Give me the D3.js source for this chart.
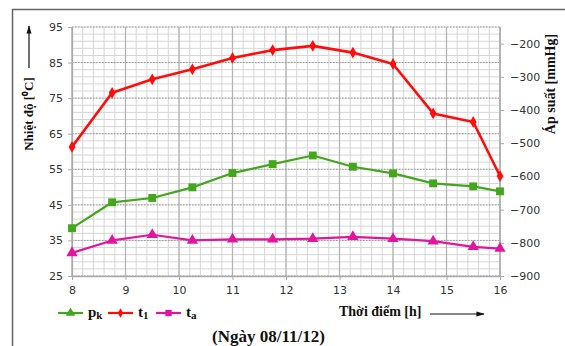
<!DOCTYPE html>
<meta charset="utf-8">
<style>
body { margin: 0; background: #fff; }
svg { display: block; }
.tick text { font: 11px "DejaVu Sans", sans-serif; fill: #333; }
.title { font-family: "Liberation Serif", "Times New Roman", serif; font-weight: bold; fill: #111; }
</style>
<svg width="565" height="346"></svg>
<script src="https://d3js.org/d3.v7.min.js"></script>
<script>

var hours = [8, 8.75, 9.5, 10.25, 11, 11.75, 12.5, 13.25, 14, 14.75, 15.5, 16];
var t1 = [61.3, 76.5, 80.3, 83.1, 86.3, 88.5, 89.7, 87.8, 84.6, 70.7, 68.3, 53.1];
var ta = [31.5, 35.0, 36.6, 35.0, 35.3, 35.3, 35.5, 36.0, 35.5, 34.8, 33.2, 32.7];
var pk = [-756, -678, -665, -633, -590, -563, -537, -571, -591, -621, -630, -645];
var tempTicks = [25, 35, 45, 55, 65, 75, 85, 95];
var presTicks = [-900, -800, -700, -600, -500, -400, -300, -200];
var hourTicks = [8, 9, 10, 11, 12, 13, 14, 15, 16];

var svg = d3.select("svg");

var x = d3.scaleLinear().domain([8, 16]).range([72, 500]),
    yT = d3.scaleLinear().domain([25, 95]).range([276, 27]),
    yP = d3.scaleLinear().domain([-900, -150]).range([276, 27]);

// outer frame
svg.append("path")
    .attr("d", "M12.5,346V9.5H565")
    .attr("fill", "none")
    .attr("stroke", "#666")
    .attr("stroke-width", 1.5);

var grid = svg.append("g");

// minor grid
grid.selectAll(".vmin")
    .data(d3.range(8, 16.01, 0.2))
  .enter().append("line")
    .attr("x1", d => x(d)).attr("x2", d => x(d))
    .attr("y1", yT(25)).attr("y2", yT(95))
    .attr("stroke", "#d6d6d6");

grid.selectAll(".hmin")
    .data(d3.range(25, 95.01, 2))
  .enter().append("line")
    .attr("x1", x(8)).attr("x2", x(16))
    .attr("y1", d => yT(d)).attr("y2", d => yT(d))
    .attr("stroke", "#d6d6d6");

// major grid
grid.selectAll(".vmaj")
    .data(hourTicks)
  .enter().append("line")
    .attr("x1", d => x(d)).attr("x2", d => x(d))
    .attr("y1", yT(25)).attr("y2", yT(95))
    .attr("stroke", "#b4b4b4")
    .attr("stroke-width", 1.3);

grid.selectAll(".hmaj")
    .data(tempTicks)
  .enter().append("line")
    .attr("x1", x(8)).attr("x2", x(16))
    .attr("y1", d => yT(d)).attr("y2", d => yT(d))
    .attr("stroke", "#999")
    .attr("stroke-dasharray", "1.5,1.5");

// axes
function styleAxis(g) {
  g.select(".domain").attr("stroke", "#aaa").attr("stroke-width", 1.3);
  g.selectAll(".tick line").attr("stroke", "#aaa");
}

svg.append("g")
    .attr("transform", "translate(" + x(8) + ",0)")
    .call(d3.axisLeft(yT).tickValues(tempTicks).tickSize(4).tickPadding(5).tickSizeOuter(0))
    .call(styleAxis);

svg.append("g")
    .attr("transform", "translate(" + x(16) + ",0)")
    .call(d3.axisRight(yP).tickValues(presTicks).tickSize(4).tickPadding(6).tickSizeOuter(0))
    .call(styleAxis)
    .select(".domain").attr("d", "M0," + yT(25) + "V" + yT(95));

svg.append("g")
    .attr("transform", "translate(0," + yT(25) + ")")
    .call(d3.axisBottom(x).tickValues(hourTicks).tickFormat(d3.format("d")).tickSize(4).tickPadding(6).tickSizeOuter(0))
    .call(styleAxis);

// series
var series = [
  {name: "pk", values: pk, y: yP, color: "#43a61c", width: 2.2, marker: "square"},
  {name: "t1", values: t1, y: yT, color: "#ff0d0d", width: 2.6, marker: "star"},
  {name: "ta", values: ta, y: yT, color: "#e0179e", width: 2.2, marker: "triangle"}
];

var symbols = {
  square: d3.symbol().type(d3.symbolSquare).size(62),
  star: d3.symbol().type(d3.symbolDiamond).size(40),
  triangle: d3.symbol().type(d3.symbolTriangle).size(55)
};

series.forEach(function(s) {
  var line = d3.line()
      .x((d, i) => x(hours[i]))
      .y(d => s.y(d));
  svg.append("path")
      .datum(s.values)
      .attr("fill", "none")
      .attr("stroke", s.color)
      .attr("stroke-width", s.width)
      .attr("stroke-linejoin", "round")
      .attr("d", line);
  svg.selectAll(null)
      .data(s.values)
    .enter().append("path")
      .attr("transform", (d, i) => "translate(" + x(hours[i]) + "," + s.y(d) + ")")
      .attr("d", symbols[s.marker])
      .attr("fill", s.color);
});

// axis titles
svg.append("text")
    .attr("class", "title")
    .attr("transform", "translate(33,114) rotate(-90)")
    .attr("text-anchor", "middle")
    .style("font-size", "13px")
    .text("Nhiệt độ [⁰C]");

svg.append("text")
    .attr("class", "title")
    .attr("transform", "translate(555,84) rotate(-90)")
    .attr("text-anchor", "middle")
    .style("font-size", "14px")
    .text("Áp suất [mmHg]");

svg.append("text")
    .attr("class", "title")
    .attr("x", 339).attr("y", 316)
    .style("font-size", "14px")
    .text("Thời điểm [h]");

svg.append("text")
    .attr("class", "title")
    .attr("x", 212).attr("y", 342)
    .style("font-size", "17px")
    .text("(Ngày 08/11/12)");

// arrows
svg.append("defs").append("marker")
    .attr("id", "arr")
    .attr("viewBox", "0 0 10 10")
    .attr("refX", 9).attr("refY", 5)
    .attr("markerWidth", 7).attr("markerHeight", 7)
    .attr("orient", "auto")
  .append("path")
    .attr("d", "M0,2L10,5L0,8z")
    .attr("fill", "#111");

svg.append("line")
    .attr("x1", 29).attr("y1", 68).attr("x2", 29).attr("y2", 26)
    .attr("stroke", "#111").attr("stroke-width", 1.2)
    .attr("marker-end", "url(#arr)");

svg.append("line")
    .attr("x1", 430).attr("y1", 314).attr("x2", 484).attr("y2", 314)
    .attr("stroke", "#111").attr("stroke-width", 1.2)
    .attr("marker-end", "url(#arr)");

// legend (marker shapes as in the original legend)
var legend = [
  {name: "p", sub: "k", color: "#43a61c", marker: "triangle", x: 58},
  {name: "t", sub: "1", color: "#ff0d0d", marker: "star", x: 108},
  {name: "t", sub: "a", color: "#e0179e", marker: "square", x: 156}
];

var lg = svg.selectAll(".lg")
    .data(legend)
  .enter().append("g")
    .attr("transform", d => "translate(" + d.x + ",313)");

lg.append("line")
    .attr("x1", 0).attr("x2", 25)
    .attr("stroke", d => d.color)
    .attr("stroke-width", 2.2);

lg.append("path")
    .attr("transform", "translate(12.5,0)")
    .attr("d", d => d3.symbol().type(d.marker === "square" ? d3.symbolSquare : d.marker === "triangle" ? d3.symbolTriangle : d3.symbolDiamond).size(d.marker === "star" ? 25 : 40)())
    .attr("fill", d => d.color);

var lt = lg.append("text")
    .attr("class", "title")
    .attr("x", 30).attr("y", 4)
    .style("font-size", "15px");
lt.append("tspan").text(d => d.name);
lt.append("tspan").attr("dy", 2).style("font-size", "11px").text(d => d.sub);

</script>
